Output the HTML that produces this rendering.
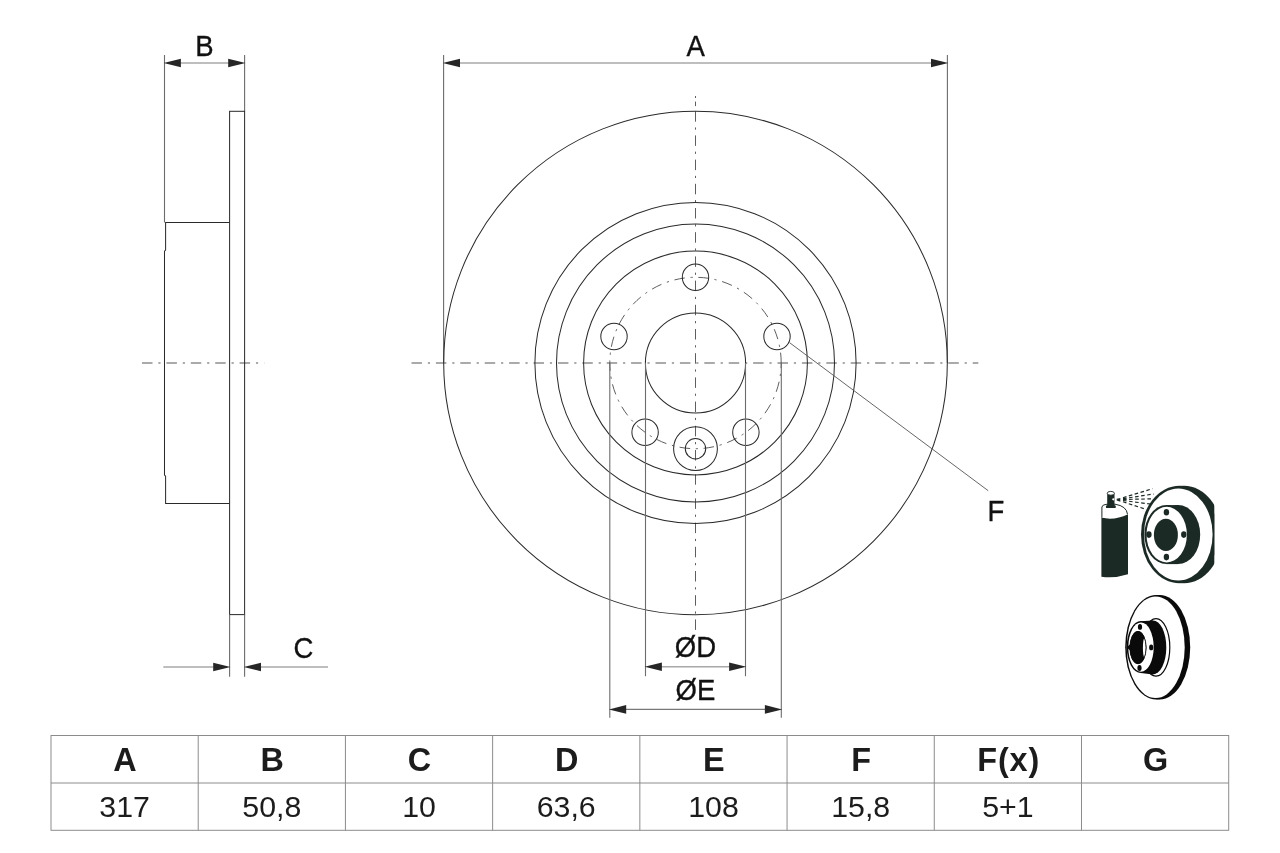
<!DOCTYPE html>
<html lang="en"><head><meta charset="utf-8"><title>Brake disc dimensions</title>
<style>
html,body{margin:0;padding:0;background:#fff;}
body{width:1280px;height:853px;overflow:hidden;position:relative;font-family:"Liberation Sans",sans-serif;}
svg{position:absolute;left:0;top:0;display:block;}
svg text{font-family:"Liberation Sans",sans-serif;fill:#111;}
svg{will-change:transform;}
.o{fill:none;stroke:#2a2a2a;stroke-width:1.02;}
.e{fill:none;stroke:#6c6c6c;stroke-width:1.1;}
.d{fill:none;stroke:#a8a8a8;stroke-width:1.6;}
.c{fill:none;stroke:#8e8e8e;stroke-width:1.7;stroke-dasharray:10.5 5.85 2.2 5.85;}
.t{fill:none;stroke:#4c4c4c;stroke-width:0.9;stroke-dasharray:10.5 5.75 2.2 5.75;}
.a{fill:#262626;stroke:none;}
.l{font-size:29.6px;text-anchor:middle;stroke:#111;stroke-width:0.35px;}
.h{font-size:32.4px;font-weight:bold;text-anchor:middle;fill:#1c1c1c;}
.v{font-size:30.3px;text-anchor:middle;fill:#1c1c1c;}
.g{fill:none;stroke:#8c8c8c;stroke-width:1;}
.k{fill:#1c2a25;}
.w{fill:#fff;}
</style></head><body>
<svg width="1280" height="853" viewBox="0 0 1280 853">
<rect x="0" y="0" width="1280" height="853" fill="#fff"/>
<g id="side-view">
<line class="c" x1="142" y1="363" x2="264.2" y2="363"/>
<line class="e" x1="164.5" y1="55" x2="164.5" y2="222.5"/>
<line class="e" x1="244.6" y1="55" x2="244.6" y2="111.2"/>
<line class="d" x1="178" y1="63" x2="231" y2="63"/>
<polygon class="a" points="163.6,63.0 180.9,58.7 180.9,67.3"/>
<polygon class="a" points="245.5,63.0 228.2,58.7 228.2,67.3"/>
<rect class="o" x="229.6" y="111.3" width="15" height="503.3"/>
<polyline class="o" points="229.6,222.5 165.6,222.5 165.6,250 164.5,251.2 164.5,475 165.6,476.2 165.6,503.4 229.6,503.4"/>
<line class="e" x1="229.6" y1="614.6" x2="229.6" y2="676.7"/>
<line class="e" x1="244.6" y1="614.6" x2="244.6" y2="676.7"/>
<line class="d" x1="163.3" y1="667" x2="215" y2="667"/>
<line class="d" x1="259" y1="667" x2="328" y2="667"/>
<polygon class="a" points="230.5,667.0 213.2,662.7 213.2,671.3"/>
<polygon class="a" points="243.7,667.0 261.0,662.7 261.0,671.3"/>
<text class="l" transform="translate(204.4 55.6) scale(0.93 1)">B</text>
<text class="l" transform="translate(303.4 658.3) scale(0.93 1)">C</text>
</g>
<g id="front-view">
<line class="c" x1="411.5" y1="363" x2="978.3" y2="363"/>
<path class="t" d="M695.5 96v2M695.5 101.6v4.5M695.5 111.2V630.5"/>
<line class="e" x1="443.6" y1="55" x2="443.6" y2="363"/>
<line class="e" x1="947.4" y1="55" x2="947.4" y2="363"/>
<line class="d" x1="458" y1="63" x2="933" y2="63"/>
<polygon class="a" points="442.7,63.0 460.0,58.7 460.0,67.3"/>
<polygon class="a" points="948.3,63.0 931.0,58.7 931.0,67.3"/>
<text class="l" transform="translate(695.7 55.6) scale(0.93 1)">A</text>
<circle class="o" cx="695.5" cy="363.0" r="251.8"/>
<circle class="o" cx="695.5" cy="363.0" r="160.6"/>
<circle class="o" cx="695.5" cy="363.0" r="139.0"/>
<circle class="o" cx="695.5" cy="363.0" r="111.9"/>
<circle class="o" cx="695.5" cy="363.0" r="50.1"/>
<path class="t" d="M781.2 363.0A85.7 85.7 0 1 0 609.8 363.0A85.7 85.7 0 1 0 781.2 363.0"/>
<circle class="o" cx="695.5" cy="277.3" r="13.2"/>
<circle class="o" cx="777.0" cy="336.5" r="13.2"/>
<circle class="o" cx="745.9" cy="432.3" r="13.2"/>
<circle class="o" cx="645.1" cy="432.3" r="13.2"/>
<circle class="o" cx="614.0" cy="336.5" r="13.2"/>
<circle class="o" cx="695.5" cy="448.7" r="10.2"/>
<circle class="o" cx="695.5" cy="448.7" r="21.9"/>
<line class="e" x1="789.6" y1="342.7" x2="988.2" y2="490.7" style="stroke:#555;stroke-width:0.9"/>
<text class="l" transform="translate(995.8 520.6) scale(0.93 1)">F</text>
<line class="e" x1="645.5" y1="363" x2="645.5" y2="676.3"/>
<line class="e" x1="745.5" y1="363" x2="745.5" y2="676.3"/>
<line class="e" x1="609.8" y1="363" x2="609.8" y2="717.8"/>
<line class="e" x1="781.3" y1="363" x2="781.3" y2="717.8"/>
<line class="d" x1="660" y1="666.8" x2="731" y2="666.8"/>
<line class="d" x1="624" y1="709.4" x2="767" y2="709.4" style="stroke:#787878;stroke-width:1.1"/>
<polygon class="a" points="644.6,666.8 661.9,662.5 661.9,671.1"/>
<polygon class="a" points="746.4,666.8 729.1,662.5 729.1,671.1"/>
<polygon class="a" points="608.9,709.4 626.2,705.1 626.2,713.7"/>
<polygon class="a" points="782.2,709.4 764.9,705.1 764.9,713.7"/>
<text class="l" transform="translate(695.5 657.4) scale(0.93 1)">ØD</text>
<text class="l" transform="translate(695.5 700.1) scale(0.93 1)">ØE</text>
</g>
<g id="icon-spray">
<path class="k" d="M1101.4 517.6Q1114.5 520.8 1128 514.2V574.3Q1114.5 578.6 1101.4 576.8z"/>
<path d="M1101.9 517.7V507Q1102.2 504.6 1107 504.2H1115Q1126.6 506 1127.5 514.2" fill="#fff" stroke="#1c2a25" stroke-width="1"/>
<rect class="k" x="1107.2" y="493.5" width="7.3" height="13.6"/>
<rect class="k" x="1105.9" y="505.3" width="9.9" height="2.8" rx="1.2"/>
<ellipse cx="1110.8" cy="493.3" rx="3.6" ry="1.9" fill="#fff" stroke="#1c2a25" stroke-width="0.9"/>
<circle cx="1113.3" cy="499.3" r="1.1" fill="#fff"/>
<polygon class="k" points="1116.7,498.8 1120.3,498 1120.3,501.8 1116.7,500.6"/>
<g stroke="#1c2a25" stroke-width="1.2" fill="none" stroke-dasharray="3.6 2.5">
<path d="M1123.0 497.7L1152.5 488.7"/>
<path d="M1123.0 498.7L1153.7 494.0"/>
<path d="M1123.0 499.5L1152.5 498.8"/>
<path d="M1123.0 500.5L1150.2 504.0"/>
<path d="M1123.0 501.8L1145.5 509.2"/>
</g>
<clipPath id="cp1"><rect x="1130" y="480" width="84.3" height="110"/></clipPath>
<g clip-path="url(#cp1)">
<ellipse class="k" cx="1179.6" cy="534.5" rx="38.6" ry="48.8"/>
<ellipse class="k" cx="1184" cy="534.5" rx="38" ry="48.8"/>
</g>
<ellipse class="w" cx="1178.3" cy="534.5" rx="34.3" ry="46.1"/>
<ellipse class="k" cx="1166.4" cy="534.6" rx="22" ry="29.5"/>
<ellipse class="k" cx="1178.2" cy="534.6" rx="22" ry="29.5"/>
<rect class="k" x="1166.4" y="505.1" width="11.8" height="59"/>
<ellipse class="w" cx="1166.7" cy="534.6" rx="20.2" ry="27.8"/>
<ellipse class="k" cx="1165.9" cy="534.9" rx="12" ry="16.2"/>
<ellipse class="k" cx="1166.4" cy="512.3" rx="2.7" ry="3.3"/>
<ellipse class="k" cx="1166.4" cy="557.1" rx="2.7" ry="3.3"/>
<ellipse class="k" cx="1148.9" cy="534.6" rx="2.7" ry="3.3"/>
<ellipse class="k" cx="1183.8" cy="534.6" rx="2.7" ry="3.3"/>
</g>
<g id="icon-disc" fill="#0a0a0a">
<ellipse cx="1156.2" cy="647.2" rx="31" ry="52.3"/>
<ellipse cx="1159.6" cy="647.2" rx="30.6" ry="52.3"/>
<ellipse class="w" cx="1155.7" cy="647.2" rx="29.0" ry="50.8"/>
<ellipse fill="none" stroke="#0a0a0a" stroke-width="1.2" cx="1156" cy="647.4" rx="13.8" ry="28.7"/>
<ellipse cx="1153" cy="647.4" rx="13.3" ry="27"/>
<path d="M1140.8 621.3L1153 620.4V674.4L1140.8 672.9z"/>
<ellipse cx="1140.8" cy="647.1" rx="14.1" ry="26"/>
<ellipse class="w" cx="1141" cy="647.1" rx="12.7" ry="24.6"/>
<ellipse cx="1138" cy="647.6" rx="8.4" ry="16.5"/>
<ellipse class="w" cx="1144.4" cy="647.8" rx="1.5" ry="9.6"/>
<ellipse fill="none" stroke="#0a0a0a" stroke-width="0.9" cx="1138" cy="647.6" rx="8.1" ry="16.2"/>
<ellipse cx="1140.0" cy="626.9" rx="2.1" ry="2.9"/>
<ellipse cx="1151.2" cy="647.4" rx="2.1" ry="2.9"/>
<ellipse cx="1139.5" cy="668.0" rx="2.1" ry="2.9"/>
<polygon points="1126.4,647.3 1130,644.6 1130,650.2"/>
</g>
<g id="table">
<rect class="g" x="51.0" y="735.5" width="1177.7" height="94.8"/>
<line class="g" x1="51.0" y1="783" x2="1228.7" y2="783"/>
<line class="g" x1="198.21" y1="735.5" x2="198.21" y2="830.3"/>
<line class="g" x1="345.43" y1="735.5" x2="345.43" y2="830.3"/>
<line class="g" x1="492.64" y1="735.5" x2="492.64" y2="830.3"/>
<line class="g" x1="639.85" y1="735.5" x2="639.85" y2="830.3"/>
<line class="g" x1="787.06" y1="735.5" x2="787.06" y2="830.3"/>
<line class="g" x1="934.28" y1="735.5" x2="934.28" y2="830.3"/>
<line class="g" x1="1081.49" y1="735.5" x2="1081.49" y2="830.3"/>
<text class="h" x="125.0" y="770.8">A</text>
<text class="v" x="124.6" y="817">317</text>
<text class="h" x="272.2" y="770.8">B</text>
<text class="v" x="271.8" y="817">50,8</text>
<text class="h" x="419.4" y="770.8">C</text>
<text class="v" x="419.0" y="817">10</text>
<text class="h" x="566.6" y="770.8">D</text>
<text class="v" x="566.2" y="817">63,6</text>
<text class="h" x="713.9" y="770.8">E</text>
<text class="v" x="713.5" y="817">108</text>
<text class="h" x="861.1" y="770.8">F</text>
<text class="v" x="860.7" y="817">15,8</text>
<text class="h" x="1008.7" y="770.8" style="letter-spacing:0.9px">F(x)</text>
<text class="v" x="1007.9" y="817">5+1</text>
<text class="h" x="1155.5" y="770.8">G</text>
</g>
</svg>
</body></html>
